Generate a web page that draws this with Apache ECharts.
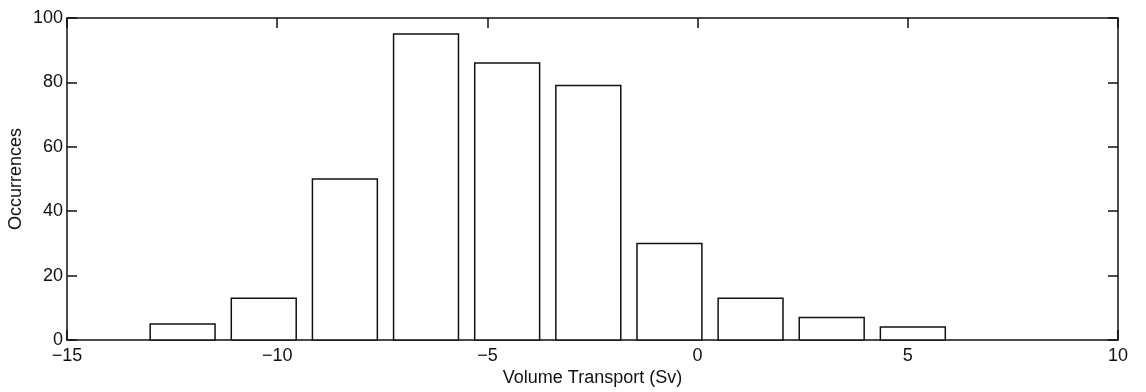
<!DOCTYPE html>
<html>
<head>
<meta charset="utf-8">
<script src="https://cdn.jsdelivr.net/npm/echarts@6/dist/echarts.min.js"></script>
<style>
html,body{margin:0;padding:0;background:#fff;}
#chart{width:1146px;height:392px;}
</style>
</head>
<body>
<div id="chart"></div>
<script>
// Histogram bin centres (Sv) and counts
const binCenters = [-12.25, -10.32, -8.39, -6.46, -4.53, -2.60, -0.67, 1.26, 3.19, 5.12];
const counts = [5, 13, 50, 95, 86, 79, 30, 13, 7, 4];
const binWidth = 1.93;
const barFraction = 0.8;
const xTicks = [-15, -10, -5, 0, 5, 10];
const yTicks = [0, 20, 40, 60, 80, 100];

const ink = '#111';
const font = 'Liberation Sans, Arial, Helvetica, sans-serif';

const chart = echarts.init(document.getElementById('chart'), null, {renderer: 'canvas'});

const axisCommon = {
  axisLine: {show: true, onZero: false, lineStyle: {color: ink, width: 1.5}},
  axisTick: {show: true, inside: true, length: 10, lineStyle: {color: ink, width: 1.5}},
  splitLine: {show: false}
};

chart.setOption({
  backgroundColor: '#fff',
  animation: false,
  grid: {left: 67, right: 28, top: 18, bottom: 52, outerBoundsMode: 'none', containLabel: false},
  xAxis: [
    Object.assign({
      type: 'value', position: 'bottom',
      min: xTicks[0], max: xTicks[xTicks.length - 1], interval: 5,
      name: 'Volume Transport (Sv)', nameLocation: 'middle', nameGap: 29,
      nameMoveOverlap: false,
      nameTextStyle: {color: ink, fontFamily: font, fontSize: 18},
      axisLabel: {color: ink, fontFamily: font, fontSize: 18, margin: 7,
        formatter: v => (v < 0 ? '\u2212' + Math.abs(v) : String(v))}
    }, axisCommon),
    Object.assign({
      type: 'value', position: 'top',
      min: xTicks[0], max: xTicks[xTicks.length - 1], interval: 5,
      axisLabel: {show: false}
    }, axisCommon)
  ],
  yAxis: [
    Object.assign({
      type: 'value', position: 'left',
      min: yTicks[0], max: yTicks[yTicks.length - 1], interval: 20,
      name: 'Occurrences', nameLocation: 'middle', nameGap: 42,
      nameMoveOverlap: false,
      nameTextStyle: {color: ink, fontFamily: font, fontSize: 18},
      axisLabel: {color: ink, fontFamily: font, fontSize: 18, margin: 4}
    }, axisCommon),
    Object.assign({
      type: 'value', position: 'right',
      min: yTicks[0], max: yTicks[yTicks.length - 1], interval: 20,
      axisLabel: {show: false}
    }, axisCommon)
  ],
  series: [{
    type: 'custom',
    xAxisIndex: 0, yAxisIndex: 0,
    data: binCenters.map((c, i) => [c, counts[i]]),
    renderItem: function (params, api) {
      const c = api.value(0), v = api.value(1);
      const half = binWidth * barFraction / 2;
      const p0 = api.coord([c - half, v]);
      const p1 = api.coord([c + half, 0]);
      return {
        type: 'rect',
        shape: {x: p0[0], y: p0[1], width: p1[0] - p0[0], height: p1[1] - p0[1]},
        style: {fill: '#fff', stroke: ink, lineWidth: 1.5}
      };
    }
  }]
});
</script>
</body>
</html>
